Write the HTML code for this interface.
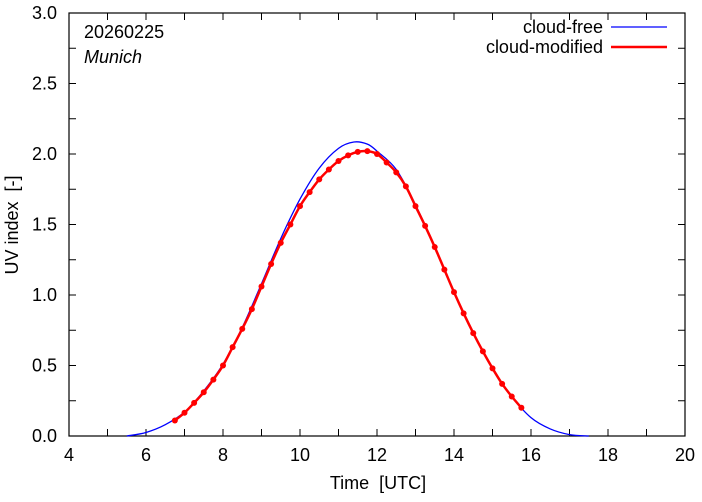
<!DOCTYPE html>
<html><head><meta charset="utf-8"><style>
body{margin:0;background:#fff;}
svg text{font-family:"Liberation Sans",sans-serif;white-space:pre;}
</style></head><body>
<svg id="chart" width="702" height="497" xmlns="http://www.w3.org/2000/svg">
<rect x="69" y="13" width="616" height="423" fill="none" stroke="#000" stroke-width="1.2"/>
<g id="ticks"></g>
<g id="series"></g>
<text x="84" y="38" font-size="18">20260225</text>
<text x="84" y="63" font-size="18" font-style="italic">Munich</text>
<g>
<text x="603" y="33" font-size="18" text-anchor="end">cloud-free</text>
<line x1="611" y1="27" x2="667" y2="27" stroke="#0000ff" stroke-width="1.2"/>
<text x="603" y="53" font-size="18" text-anchor="end">cloud-modified</text>
<line x1="611" y1="47" x2="667" y2="47" stroke="#ff0000" stroke-width="2.5"/>
</g>
<text x="378" y="489" font-size="18" text-anchor="middle">Time  [UTC]</text>
<text transform="translate(18,225) rotate(-90)" font-size="18" text-anchor="middle">UV index  [-]</text>
</svg>
<script>
const xTicks=[4,6,8,10,12,14,16,18,20];
const yTicks=[0.0,0.5,1.0,1.5,2.0,2.5,3.0];
const freeT=[5.5,6.0,6.5,7.0,7.5,8.0,8.5,9.0,9.5,10.0,10.5,11.0,11.4,11.75,12.0,12.5,13.0,13.5,14.0,14.5,15.0,15.5,16.0,16.5,17.0,17.5];
const freeV=[0,0.025,0.08,0.17,0.32,0.51,0.77,1.08,1.40,1.68,1.90,2.04,2.085,2.07,2.02,1.89,1.64,1.34,1.02,0.73,0.48,0.28,0.13,0.05,0.01,0];
const cloudT=[6.75,7.0,7.25,7.5,7.75,8.0,8.25,8.5,8.75,9.0,9.25,9.5,9.75,10.0,10.25,10.5,10.75,11.0,11.25,11.5,11.75,12.0,12.25,12.5,12.75,13.0,13.25,13.5,13.75,14.0,14.25,14.5,14.75,15.0,15.25,15.5,15.75];
const cloudV=[0.11,0.165,0.235,0.31,0.40,0.50,0.63,0.76,0.90,1.06,1.22,1.37,1.50,1.63,1.73,1.82,1.89,1.95,1.99,2.015,2.02,2.00,1.94,1.87,1.77,1.63,1.49,1.34,1.18,1.02,0.87,0.73,0.60,0.48,0.37,0.28,0.20];
const NS="http://www.w3.org/2000/svg";
const X0=69,X1=685,Y0=436,Y1=13;
const xs=t=>X0+(t-4)/16*(X1-X0);
const ys=v=>Y0-v/3*(Y0-Y1);
function mk(tag,attrs,parent){const e=document.createElementNS(NS,tag);for(const k in attrs)e.setAttribute(k,attrs[k]);parent.appendChild(e);return e;}
function smooth(P){let d='M'+P[0][0]+','+P[0][1];for(let i=0;i<P.length-1;i++){const p0=P[Math.max(i-1,0)],p1=P[i],p2=P[i+1],p3=P[Math.min(i+2,P.length-1)];d+=' C'+(p1[0]+(p2[0]-p0[0])/6)+','+(p1[1]+(p2[1]-p0[1])/6)+' '+(p2[0]-(p3[0]-p1[0])/6)+','+(p2[1]-(p3[1]-p1[1])/6)+' '+p2[0]+','+p2[1];}return d;}
const tg=document.getElementById('ticks');
for(let h=5;h<20;h++){
 const x=xs(h);
 const a=mk('line',{x1:x,y1:Y0,x2:x,y2:Y0-7,stroke:'#000'},tg);
 
 
 const b=mk('line',{x1:x,y1:Y1,x2:x,y2:Y1+7,stroke:'#000'},tg);
 
 
}
for(let i=1;i<12;i++){
 const y=ys(i*0.25);
 const a=mk('line',{x1:X0,y1:y,x2:X0+7,y2:y,stroke:'#000'},tg);
 
 
 const b=mk('line',{x1:X1,y1:y,x2:X1-7,y2:y,stroke:'#000'},tg);
 
 
}
xTicks.forEach(t=>{
 const e=mk('text',{x:xs(t),y:461,'font-size':18,'text-anchor':'middle'},tg);
 e.textContent=t;
 
 
});
yTicks.forEach(v=>{
 const e=mk('text',{x:57,y:ys(v)+6,'font-size':18,'text-anchor':'end'},tg);
 e.textContent=v.toFixed(1);
 
 
});
const sg=document.getElementById('series');
const pf=mk('path',{d:smooth(freeT.map((t,i)=>[xs(t),ys(freeV[i])])),fill:'none',stroke:'#0000ff','stroke-width':1.3},sg);


const pc=mk('path',{d:smooth(cloudT.map((t,i)=>[xs(t),ys(cloudV[i])])),fill:'none',stroke:'#ff0000','stroke-width':2.5},sg);


cloudT.forEach((t,i)=>{
 const c=mk('circle',{cx:xs(t),cy:ys(cloudV[i]),r:3,fill:'#ff0000'},sg);
 
 
});
</script>
</body></html>
